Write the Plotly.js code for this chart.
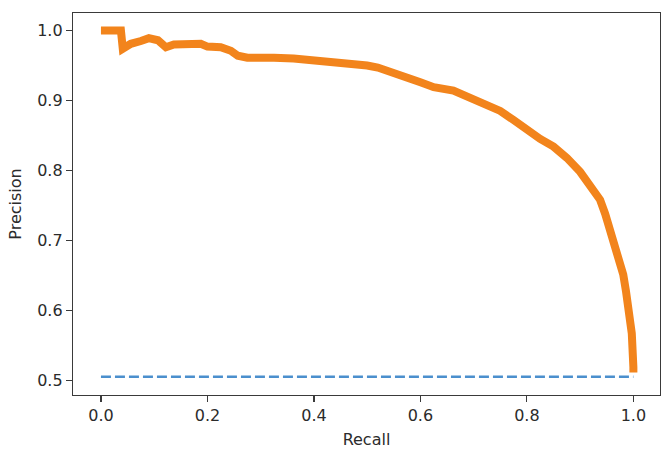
<!DOCTYPE html>
<html>
<head>
<meta charset="utf-8">
<script src="https://cdn.plot.ly/plotly-3.0.1.min.js"></script>
<style>html,body{margin:0;padding:0;background:#fff;}#chart{width:672px;height:453px;}</style>
</head>
<body>
<div id="chart"></div>
<script>
const recall = [0.0, 0.02, 0.0375, 0.041, 0.056, 0.075, 0.09, 0.107, 0.122, 0.137, 0.155, 0.175, 0.1875, 0.2, 0.225, 0.244, 0.257, 0.275, 0.3, 0.325, 0.362, 0.39, 0.415, 0.437, 0.47, 0.5, 0.52, 0.538, 0.56, 0.581, 0.6, 0.625, 0.662, 0.685, 0.706, 0.73, 0.75, 0.775, 0.8, 0.825, 0.85, 0.875, 0.9, 0.92, 0.9375, 0.947, 0.956, 0.969, 0.976, 0.981, 0.986, 0.99, 0.997, 1.0, 1.0];
const precision = [1.0, 1.0, 1.0, 0.974, 0.981, 0.985, 0.989, 0.986, 0.976, 0.98, 0.981, 0.981, 0.981, 0.977, 0.976, 0.971, 0.964, 0.961, 0.962, 0.961, 0.96, 0.958, 0.957, 0.957, 0.953, 0.95, 0.947, 0.943, 0.937, 0.931, 0.926, 0.919, 0.914, 0.907, 0.9, 0.892, 0.885, 0.872, 0.858, 0.845, 0.834, 0.818, 0.798, 0.779, 0.758, 0.738, 0.715, 0.684, 0.666, 0.651, 0.628, 0.604, 0.567, 0.519, 0.511];
const baselineRecall = [0.0, 1.0];
const baselinePrecision = [0.505, 0.505];

const traces = [
  {x: baselineRecall, y: baselinePrecision, type: 'scatter', mode: 'lines',
   line: {color: '#4b8fcd', width: 2.5, dash: '10px,4px'}, showlegend: false, hoverinfo: 'skip'},
  {x: recall, y: precision, type: 'scatter', mode: 'lines',
   line: {color: '#f2841c', width: 8}, showlegend: false}
];

const axisCommon = {
  showgrid: false, zeroline: false, showline: true, mirror: true,
  linecolor: '#3a3a3a', linewidth: 1.2,
  ticks: 'outside', ticklen: 6, tickwidth: 1.2, tickcolor: '#3a3a3a',
  tickfont: {family: 'DejaVu Sans', size: 16, color: '#2b2b2b'}
};

const layout = {
  width: 672, height: 453,
  margin: {l: 73, r: 12, t: 13, b: 58},
  paper_bgcolor: '#ffffff', plot_bgcolor: '#ffffff',
  font: {family: 'DejaVu Sans', color: '#2b2b2b'},
  xaxis: Object.assign({}, axisCommon, {
    range: [-0.0525, 1.05], tickvals: [0, 0.2, 0.4, 0.6, 0.8, 1.0],
    ticktext: ['0.0', '0.2', '0.4', '0.6', '0.8', '1.0'],
    title: {text: 'Recall', font: {family: 'DejaVu Sans', size: 16, color: '#2b2b2b'}, standoff: 9}
  }),
  yaxis: Object.assign({}, axisCommon, {
    range: [0.479, 1.025], tickvals: [0.5, 0.6, 0.7, 0.8, 0.9, 1.0],
    ticktext: ['0.5', '0.6', '0.7', '0.8', '0.9', '1.0'],
    title: {text: 'Precision', font: {family: 'DejaVu Sans', size: 16, color: '#2b2b2b'}, standoff: 11}
  })
};

Plotly.newPlot('chart', traces, layout, {staticPlot: true, displayModeBar: false});
</script>
</body>
</html>
